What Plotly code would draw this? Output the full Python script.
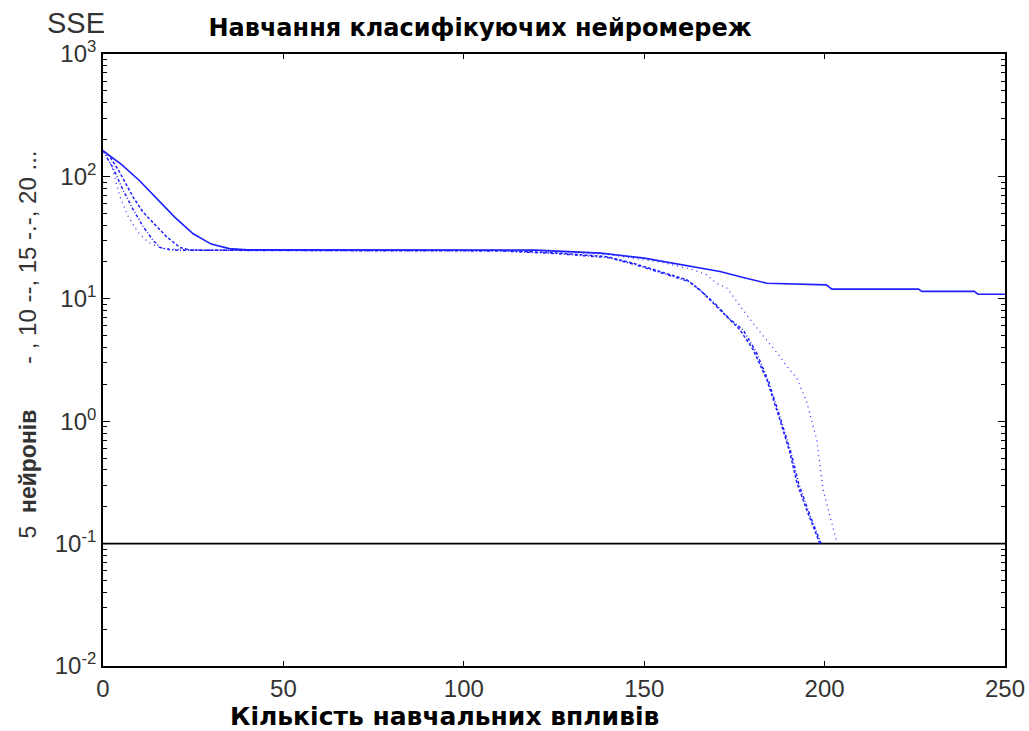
import plotly.graph_objects as go

# ---- data ----
x_5 = [0, 5, 10, 15, 20, 25, 30, 35, 40, 120, 130, 138, 150, 156, 166, 171, 178, 184, 200.5, 202, 226, 227, 241.5, 242.5, 250]
y_5 = [162, 126, 93, 65, 46, 34, 28, 25.7, 25.1, 25.0, 24.4, 23.6, 21.5, 20.0, 17.8, 16.7, 14.8, 13.4, 13.0, 12.0, 12.0, 11.5, 11.5, 10.9, 10.9]

x_10 = [0, 1.9, 4.7, 8.3, 11.1, 13.9, 17.7, 21.3, 24, 30, 110, 125, 132, 139.6, 147, 154.4, 161.8, 165.5, 169, 172.9, 176.5, 180.2, 184, 187.6, 190.4, 192.3, 195, 198.7]
y_10 = [162, 145, 107, 68, 51, 42, 32, 26.3, 25.1, 24.9, 24.8, 23.8, 22.9, 22.1, 19.5, 16.6, 14.3, 11.8, 9.3, 7.2, 5.6, 3.84, 2.18, 1.03, 0.553, 0.315, 0.19, 0.1]

x_15 = [0, 2.8, 5.5, 8.3, 11.1, 13.9, 15.8, 19, 30, 110, 125, 132, 140, 147.5, 155, 162.5, 166, 170, 173.5, 177.4, 181, 184.5, 188, 190.8, 192.8, 195.5, 199]
y_15 = [162, 117, 78, 54, 39, 30, 26.3, 25.0, 24.9, 24.6, 23.5, 22.6, 21.7, 19.0, 16.2, 13.8, 11.4, 8.9, 6.9, 5.58, 3.7, 2.1, 1.0, 0.54, 0.31, 0.185, 0.1]

x_20 = [0, 2.5, 4.7, 7, 9.7, 12.5, 16.4, 25, 120, 140, 155, 163.5, 167.3, 170, 173, 175.6, 178.4, 182, 187.6, 189.5, 192.3, 195, 197.8, 199.6, 202, 203.3]
y_20 = [162, 120, 68, 47, 35, 29, 25.7, 25.0, 24.9, 23.0, 19.8, 17.3, 15.7, 13.4, 12.2, 9.5, 7.4, 5.4, 3.39, 2.82, 2.25, 1.45, 0.71, 0.275, 0.148, 0.105]

goal_x = [0, 250]
goal_y = [0.1, 0.1]

y_tick_vals = [0.01, 0.1, 1, 10, 100, 1000]
y_tick_text = ["10<sup>-2</sup>", "10<sup>-1</sup>", "10<sup>0</sup>", "10<sup>1</sup>", "10<sup>2</sup>", "10<sup>3</sup>"]
x_tick_vals = [0, 50, 100, 150, 200, 250]

blue = "#1f1fff"
fig = go.Figure()
fig.add_trace(go.Scatter(x=goal_x, y=goal_y, mode="lines", line=dict(color="black", width=1.6), showlegend=False))
fig.add_trace(go.Scatter(x=x_5, y=y_5, mode="lines", line=dict(color=blue, width=1.6), showlegend=False))
fig.add_trace(go.Scatter(x=x_10, y=y_10, mode="lines", line=dict(color=blue, width=1.5, dash="3px,2px"), showlegend=False))
fig.add_trace(go.Scatter(x=x_15, y=y_15, mode="lines", line=dict(color=blue, width=1.5, dash="3px,2px,1px,2px"), showlegend=False))
fig.add_trace(go.Scatter(x=x_20, y=y_20, mode="lines", line=dict(color=blue, width=1.2, dash="1px,4px"), showlegend=False))

minor_vals = [m * d for d in [0.01, 0.1, 1, 10, 100] for m in range(2, 10)]

tickfont = dict(family="Liberation Sans, Arial", size=24, color="#333333")
fig.update_xaxes(range=[0, 250], tickvals=x_tick_vals, ticks="inside", ticklen=5, tickwidth=1.2,
                 showline=True, linecolor="black", linewidth=1.6, mirror="allticks", automargin=False,
                 ticklabeloverflow="allow",
                 showgrid=False, zeroline=False, tickfont=tickfont, tickcolor="black")
fig.update_yaxes(type="log", range=[-2, 3], tickvals=y_tick_vals, ticktext=y_tick_text,
                 ticks="inside", ticklen=7, tickwidth=1.2, tickcolor="black", automargin=False,
                 ticklabeloverflow="allow",
                 minor=dict(tickvals=minor_vals, ticks="inside", ticklen=4, tickcolor="black", showgrid=False),
                 showline=True, linecolor="black", linewidth=1.6, mirror="allticks",
                 showgrid=False, zeroline=False, tickfont=tickfont)

fig.update_layout(
    width=1029, height=731,
    margin=dict(l=103, r=24, t=54, b=65, autoexpand=False),
    paper_bgcolor="white", plot_bgcolor="white",
    title=dict(text="<b>Навчання класифікуючих нейромереж</b>", x=0.4665, xanchor="center", y=0.9617, yanchor="middle",
               font=dict(family="DejaVu Sans", size=24, color="black")),
)
fig.add_annotation(text="SSE", xref="paper", yref="paper", x=-0.03, y=1.05, xanchor="center", yanchor="middle",
                   showarrow=False, font=dict(family="Liberation Sans, Arial", size=29, color="#333333"))
fig.add_annotation(text="<b>Кількість навчальних впливів</b>", xref="paper", yref="paper", x=0.379, y=-0.0824,
                   xanchor="center", yanchor="middle", showarrow=False,
                   font=dict(family="DejaVu Sans", size=25, color="black"))
fig.add_annotation(text="5  <b>нейронів</b>", xref="paper", yref="paper", x=-0.083, y=0.313, textangle=-90,
                   xanchor="center", yanchor="middle", showarrow=False,
                   font=dict(family="Liberation Sans, Arial", size=23, color="#333333"))
fig.add_annotation(text="- , 10 --, 15 -.-, 20 ...", xref="paper", yref="paper", x=-0.083, y=0.667, textangle=-90,
                   xanchor="center", yanchor="middle", showarrow=False,
                   font=dict(family="Liberation Sans, Arial", size=24, color="#333333"))

fig.write_html("out.html", config={"displayModeBar": False},
               post_script="document.body.style.margin='0';document.body.style.overflow='hidden';")
